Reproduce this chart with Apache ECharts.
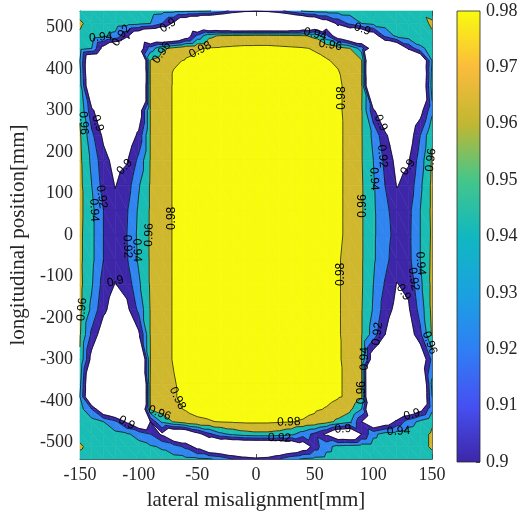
<!DOCTYPE html>
<html><head><meta charset="utf-8">
<script src="https://cdn.jsdelivr.net/npm/echarts@6/dist/echarts.min.js"></script>
<style>html,body{margin:0;padding:0;background:#fff}#c{width:526px;height:516px}</style>
</head><body><div id="c"></div>
<script>
// lateral misalignment grid (mm)
const xValues = [-150,-140,-130,-120,-110,-100,-90,-80,-70,-60,-50,-40,-30,-20,-10,0,10,20,30,40,50,60,70,80,90,100,110,120,130,140,150];
// longitudinal position grid (mm), top to bottom
const yValues = [540,510,480,450,420,390,360,300,240,180,120,60,0,-60,-120,-180,-240,-300,-360,-390,-420,-450,-480,-510,-540];
// efficiency in thousandths, one row per yValues entry
const efficiencyRows = [
 [955,952,950,950,950,950,948,946,945,944,943,942,930,915,905,902,905,915,930,942,945,946,947,948,950,950,952,955,958,958,955],
 [962,955,952,950,948,945,940,920,895,860,840,820,810,800,800,800,800,800,810,830,850,880,905,925,940,945,948,950,952,955,962],
 [958,950,945,935,905,870,845,840,850,880,925,955,963,965,966,967,967,966,965,963,955,925,880,855,850,880,925,945,950,955,958],
 [948,940,890,860,850,880,930,955,966,976,979,981,982,983,984,984,984,983,982,981,979,976,968,960,930,880,855,860,905,935,948],
 [940,855,850,840,840,800,962,972,978,981,983,985,986,986,987,987,987,986,986,985,983,981,978,972,962,800,840,840,850,855,940],
 [945,850,850,840,840,790,962,974,981,984,986,987,988,988,988,988,988,988,988,987,986,984,981,974,962,790,840,840,850,850,945],
 [948,855,855,845,845,800,962,975,981,985,987,988,989,989,989,989,989,989,989,988,987,985,982,976,962,800,845,845,855,855,948],
 [958,905,878,862,865,880,961,975,981,986,988,989,990,990,990,990,990,990,990,989,988,986,982,976,961,905,870,862,870,890,935],
 [962,925,895,878,882,905,961,975,981,986,988,989,990,990,990,990,990,990,990,989,988,986,982,977,961,935,905,880,885,920,958],
 [964,935,908,892,898,925,961,975,981,986,988,989,990,990,990,990,990,990,990,989,988,986,982,977,961,940,915,893,898,930,962],
 [965,940,912,899,910,938,962,975,981,986,988,989,990,990,990,990,990,990,990,989,988,986,982,977,962,942,920,899,906,936,964],
 [965,945,920,906,918,943,962,975,981,986,988,989,990,990,990,990,990,990,990,989,988,986,982,977,962,943,926,908,914,940,964],
 [964,945,920,908,920,945,962,975,981,986,988,989,990,990,990,990,990,990,990,989,988,986,982,977,962,943,928,912,915,940,963],
 [964,945,920,906,918,943,962,975,981,986,988,989,990,990,990,990,990,990,990,989,988,986,981,976,962,943,926,908,914,940,964],
 [965,942,912,899,908,936,962,975,981,986,988,989,990,990,990,990,990,990,990,989,988,986,981,976,962,940,918,899,905,935,965],
 [965,935,905,888,894,925,961,975,981,986,988,989,990,990,990,990,990,990,990,989,988,986,981,976,961,938,910,893,897,928,965],
 [962,915,885,872,875,895,961,975,981,986,988,989,990,990,990,990,990,990,990,989,988,986,981,976,961,930,900,880,885,915,962],
 [958,890,860,850,850,830,960,975,981,985,988,989,990,990,990,990,990,990,990,989,988,986,981,977,960,880,855,850,855,875,925],
 [945,850,845,840,840,790,962,975,979,984,987,988,989,989,989,989,989,989,989,988,987,985,981,978,962,790,840,840,845,850,945],
 [940,850,840,840,840,790,962,972,979,983,986,987,988,988,988,988,988,988,988,987,986,984,981,978,962,790,840,840,840,850,940],
 [948,920,870,850,860,830,961,970,977,981,983,985,986,986,986,986,986,986,985,984,982,979,975,965,940,830,850,860,870,890,935],
 [955,948,940,925,895,860,900,945,962,972,978,979,981,982,983,983,983,982,981,979,976,968,955,945,900,865,880,905,930,945,958],
 [955,950,948,945,942,935,920,895,860,860,890,915,935,945,952,955,955,952,945,930,915,895,865,860,900,935,948,950,952,955,962],
 [962,955,952,950,948,945,942,938,930,915,890,860,850,845,845,845,845,850,860,880,910,935,945,948,950,950,952,952,953,955,962],
 [955,952,950,950,950,950,948,946,945,944,943,942,935,920,910,905,908,920,935,942,945,946,947,948,950,950,950,950,952,955,955]
];
const contourLevels = [0.90,0.92,0.94,0.96,0.98];
const bandColors = ['#3E26A8','#3085F0','#1ABDB3','#D0B82E','#F9FB0E'];
const xTickValues = [-150,-100,-50,0,50,100,150];
const yTickValues = [-500,-400,-300,-200,-100,0,100,200,300,400,500];
const colorbarMin = 0.9, colorbarMax = 0.98, colorbarStep = 0.01;
const colorbarColors = ['#3E26A8','#4650F2','#2F7FF5','#1AA2E0','#10B8C0','#45C68A','#C2B731','#FBBC3C','#F9FB0E'];
// contour label anchors: [x, y, level]
const contourLabelSpots = [
 [-67,40,0.98],[70,-95,0.98],[75,330,0.98],[-48,452,0.98],[-68,-395,0.98],[28,-457,0.98],
 [-90,0,0.96],[92,70,0.96],[-147,270,0.96],[-147,-180,0.96],[148,183,0.96],[148,-260,0.96],[-80,438,0.96],[63,452,0.96],[-83,-435,0.96],[90,-380,0.96],
 [-137,60,0.94],[95,-300,0.94],[100,135,0.94],[138,-69,0.94],[-101,-37,0.94],[120,-459,0.94],[-129,458,0.94],[49,475,0.94],
 [-128,95,0.92],[108,190,0.92],[130,-110,0.92],[106,-243,0.92],[-110,-28,0.92],[-114,477,0.92],[20,-489,0.92],
 [-116,175,0.9],[-133,271,0.9],[107,271,0.9],[124,175,0.9],[-118,-110,0.9],[121,-148,0.9],[-123,-459,0.9],[74,-469,0.9],[134,-445,0.9],[-72,490,0.9],[91,499,0.9]
];

const z = efficiencyRows.map(r => r.map(v => v / 1000));
const cells = [];
for (let j = 0; j < yValues.length - 1; j++)
  for (let i = 0; i < xValues.length - 1; i++) cells.push([xValues[i], yValues[j], i, j]);

function cellTriangles(api, i, j) {
  const pt = (a, b) => { const p = api.coord([xValues[a], yValues[b]]); return {x: p[0], y: p[1], v: z[b][a]}; };
  const TL = pt(i, j), TR = pt(i + 1, j), BR = pt(i + 1, j + 1), BL = pt(i, j + 1);
  return [[TL, TR, BR], [TL, BR, BL]];
}
function interp(P, Q, L) { const t = (L - P.v) / (Q.v - P.v); return {x: P.x + t * (Q.x - P.x), y: P.y + t * (Q.y - P.y), v: L}; }
function clipPoly(poly, L, keepAbove) {
  const out = [];
  const inside = p => keepAbove ? p.v >= L : p.v < L;
  for (let m = 0; m < poly.length; m++) {
    const P = poly[m], Q = poly[(m + 1) % poly.length];
    const pin = inside(P), qin = inside(Q);
    if (pin && qin) out.push(Q);
    else if (pin && !qin) out.push(interp(P, Q, L));
    else if (!pin && qin) { out.push(interp(P, Q, L)); out.push(Q); }
  }
  return out;
}
function renderFill(params, api) {
  const tris = cellTriangles(api, api.value(2), api.value(3));
  const children = [];
  tris.forEach(t => {
    for (let k = 0; k < contourLevels.length; k++) {
      let poly = clipPoly(t, contourLevels[k], true);
      if (k + 1 < contourLevels.length && poly.length) poly = clipPoly(poly, contourLevels[k + 1], false);
      if (poly.length >= 3) children.push({type: 'polygon', shape: {points: poly.map(p => [p.x, p.y])},
        style: {fill: bandColors[k], stroke: bandColors[k], lineWidth: 0.6}, silent: true});
    }
  });
  return {type: 'group', children};
}
function renderLines(params, api) {
  const tris = cellTriangles(api, api.value(2), api.value(3));
  const children = [];
  tris.forEach(t => contourLevels.forEach(L => {
    const pts = [];
    for (let m = 0; m < 3; m++) { const P = t[m], Q = t[(m + 1) % 3]; if ((P.v >= L) !== (Q.v >= L)) pts.push(interp(P, Q, L)); }
    if (pts.length === 2) children.push({type: 'line', shape: {x1: pts[0].x, y1: pts[0].y, x2: pts[1].x, y2: pts[1].y},
      style: {stroke: '#000', lineWidth: 0.7}, silent: true});
  }));
  return {type: 'group', children};
}
function field(x, y) {
  let i = 0; while (i < xValues.length - 2 && x > xValues[i + 1]) i++;
  let j = 0; while (j < yValues.length - 2 && y < yValues[j + 1]) j++;
  const u = (x - xValues[i]) / (xValues[i + 1] - xValues[i]);
  const w = (yValues[j] - y) / (yValues[j] - yValues[j + 1]);
  const TL = z[j][i], TR = z[j][i + 1], BR = z[j + 1][i + 1], BL = z[j + 1][i];
  return u >= w ? TL + u * (TR - TL) + w * (BR - TR) : TL + w * (BL - TL) + u * (BR - BL);
}
const clamp = (v, a, b) => Math.max(a, Math.min(b, v));
function renderLabel(params, api) {
  const x0 = api.value(0), y0 = api.value(1), L = api.value(2);
  const o = api.coord([0, 0]), ex = api.coord([1, 0]), ey = api.coord([0, 1]);
  const sx = ex[0] - o[0], sy = o[1] - ey[1];
  let x = x0, y = y0, gx = 0, gy = 0;
  const grad = (x, y) => [(field(x + 0.5, y) - field(x - 0.5, y)) / (1 * sx), (field(x, y + 1.5) - field(x, y - 1.5)) / (3 * sy)];
  for (let it = 0; it < 10; it++) {
    [gx, gy] = grad(x, y);
    const g2 = gx * gx + gy * gy; if (g2 < 1e-14) break;
    const d = (field(x, y) - L) / g2;
    x = clamp(x - d * gx / sx, -149, 149); y = clamp(y - d * gy / sy, -538, 538);
  }
  if (Math.hypot((x - x0) * sx, (y - y0) * sy) > 18 || Math.abs(field(x, y) - L) > 0.002) { x = x0; y = y0; }
  [gx, gy] = grad(x, y);
  let rot = -Math.atan2(gx, gy);
  while (rot > Math.PI / 2) rot -= Math.PI;
  while (rot <= -Math.PI / 2) rot += Math.PI;
  const p = api.coord([x, y]);
  return {type: 'text', x: p[0], y: p[1], rotation: rot, silent: true,
    style: {text: String(+L.toFixed(2)), fill: '#000', font: '12px "Liberation Sans", Arial, sans-serif',
      align: 'center', verticalAlign: 'middle', textAlign: 'center', textVerticalAlign: 'middle'}};
}
function renderColorbar(params, api) {
  const a = api.coord([0, colorbarMax]), b = api.coord([1, colorbarMin]);
  const n = colorbarColors.length;
  const stops = colorbarColors.map((c, k) => ({offset: 1 - k / (n - 1), color: c})).reverse();
  return {type: 'rect', shape: {x: a[0], y: a[1], width: b[0] - a[0], height: b[1] - a[1]},
    style: {fill: new echarts.graphic.LinearGradient(0, 0, 0, 1, stops), stroke: '#262626', lineWidth: 0.8}};
}

const axisCol = '#262626';
const serif = '"Liberation Serif", "Times New Roman", serif';
const lineStyle = {color: axisCol, width: 0.8};
const chart = echarts.init(document.getElementById('c'));
chart.setOption({
  animation: false,
  grid: [
    {left: 80, top: 11, width: 352, height: 451},
    {left: 457, top: 11, width: 23, height: 451}
  ],
  xAxis: [
    {gridIndex: 0, type: 'value', min: -150, max: 150, interval: 50, position: 'bottom',
     axisLine: {onZero: false, lineStyle}, axisTick: {inside: true, length: 5, lineStyle}, splitLine: {show: false},
     axisLabel: {fontFamily: serif, fontSize: 18, color: axisCol, margin: 7},
     name: 'lateral misalignment[mm]', nameLocation: 'middle', nameGap: 31,
     nameTextStyle: {fontFamily: serif, fontSize: 21, color: axisCol}},
    {gridIndex: 0, type: 'value', min: -150, max: 150, interval: 50, position: 'top',
     axisLine: {onZero: false, lineStyle}, axisTick: {inside: true, length: 5, lineStyle}, splitLine: {show: false}, axisLabel: {show: false}},
    {gridIndex: 1, type: 'value', min: 0, max: 1, show: false}
  ],
  yAxis: [
    {gridIndex: 0, type: 'value', min: -540, max: 540, position: 'left',
     axisLine: {onZero: false, lineStyle}, axisTick: {inside: true, length: 5, lineStyle, customValues: yTickValues}, splitLine: {show: false},
     axisLabel: {fontFamily: serif, fontSize: 18, color: axisCol, margin: 7, customValues: yTickValues},
     name: 'longitudinal position[mm]', nameLocation: 'middle', nameGap: 45,
     nameTextStyle: {fontFamily: serif, fontSize: 21, color: axisCol}},
    {gridIndex: 0, type: 'value', min: -540, max: 540, position: 'right',
     axisLine: {onZero: false, lineStyle}, axisTick: {inside: true, length: 5, lineStyle, customValues: yTickValues}, splitLine: {show: false},
     axisLabel: {show: false}},
    {gridIndex: 1, type: 'value', min: colorbarMin, max: colorbarMax, interval: colorbarStep, position: 'right',
     axisLine: {show: false, onZero: false}, axisTick: {inside: true, length: 4, lineStyle}, splitLine: {show: false},
     axisLabel: {fontFamily: serif, fontSize: 18, color: axisCol, margin: 6, formatter: v => String(+v.toFixed(2))}}
  ],
  series: [
    {type: 'custom', xAxisIndex: 0, yAxisIndex: 0, data: cells, encode: {x: 0, y: 1}, renderItem: renderFill, z: 1},
    {type: 'custom', xAxisIndex: 0, yAxisIndex: 0, data: cells, encode: {x: 0, y: 1}, renderItem: renderLines, z: 2},
    {type: 'custom', xAxisIndex: 0, yAxisIndex: 0, data: contourLabelSpots, encode: {x: 0, y: 1}, renderItem: renderLabel, z: 3},
    {type: 'custom', xAxisIndex: 2, yAxisIndex: 2, data: [[0.5, 0.94]], encode: {x: 0, y: 1}, renderItem: renderColorbar, z: 1}
  ]
});
</script></body></html>
